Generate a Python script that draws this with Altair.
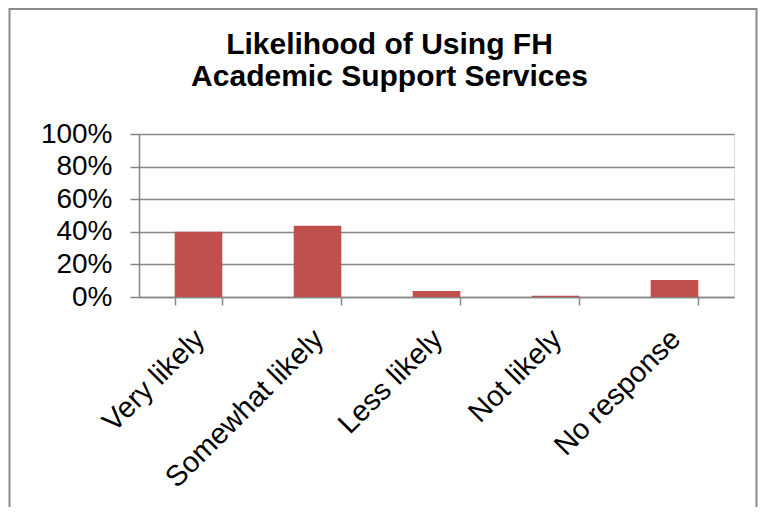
import altair as alt
import pandas as pd

categories = ["Very likely", "Somewhat likely", "Less likely", "Not likely", "No response"]
shares = [0.40, 0.437, 0.037, 0.008, 0.105]
y_ticks = [0.0, 0.2, 0.4, 0.6, 0.8, 1.0]
title_lines = ["Likelihood of Using FH", "Academic Support Services"]

df = pd.DataFrame({"category": categories, "share": shares})

FONT = "Liberation Sans"
GRAY = "#868686"

bars = alt.Chart(df).mark_bar(color="#C0504D").encode(
    x=alt.X(
        "category:N",
        sort=categories,
        title=None,
        scale=alt.Scale(paddingInner=0.6, paddingOuter=0.3),
        axis=alt.Axis(
            labelAngle=-45,
            labelAlign="right",
            labelBaseline="top",
            labelFontSize=29,
            labelFont=FONT,
            labelColor="black",
            labelPadding=19,
            labelOffset=-9,
            labelLimit=500,
            tickBand="extent",
            tickSize=8,
            tickColor=GRAY,
            tickWidth=1.5,
            domainColor=GRAY,
            domainWidth=1.5,
            grid=False,
        ),
    ),
    y=alt.Y(
        "share:Q",
        title=None,
        scale=alt.Scale(domain=[0, 1]),
        axis=alt.Axis(
            values=y_ticks,
            format=".0%",
            labelFontSize=28,
            labelFont=FONT,
            labelColor="black",
            labelPadding=18,
            tickSize=9,
            tickColor=GRAY,
            tickWidth=1.5,
            domainColor=GRAY,
            domainWidth=1.5,
            gridColor=GRAY,
            gridWidth=1.5,
        ),
    ),
)

frame = alt.Chart(alt.Data(values=[{"f": 1}])).mark_rect(
    fillOpacity=0, stroke="#8a8a8a", strokeWidth=2
).encode(
    x=alt.value(-129.5), x2=alt.value(617.5), y=alt.value(-125), y2=alt.value(700)
)

chart = alt.layer(bars, frame).properties(
    width=595,
    height=163,
    title=alt.Title(
        title_lines,
        fontSize=30,
        font=FONT,
        fontWeight="bold",
        color="black",
        lineHeight=32,
        anchor="middle",
        dx=-47,
        dy=122,
        offset=38,
    ),
    autosize=alt.AutoSizeParams(type="none"),
    padding={"left": 131, "top": 126, "right": 24, "bottom": 210},
).configure_view(stroke=None).configure(background="white")

chart.save("out.html", embed_options={"renderer": "svg", "actions": False})
